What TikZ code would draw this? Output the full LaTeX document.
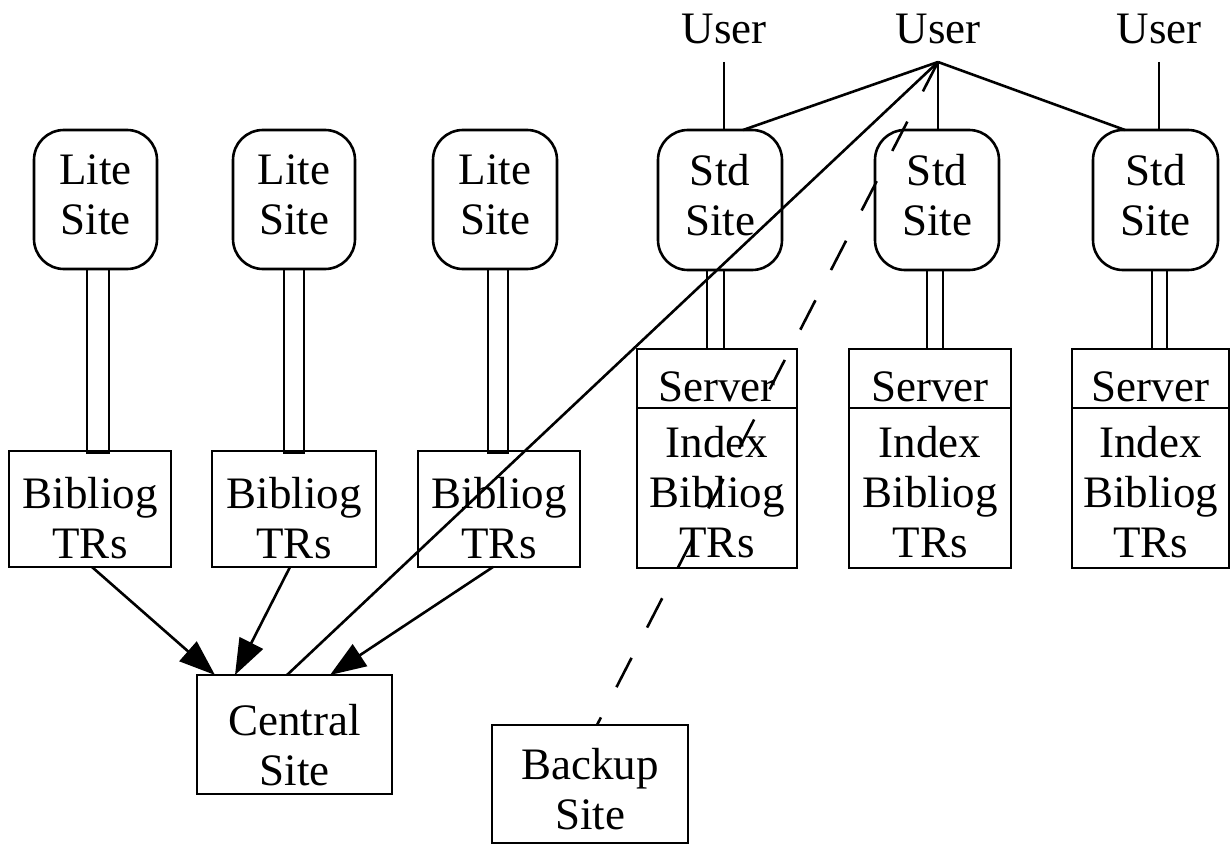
\documentclass[tikz,border=0pt]{standalone}
\usepackage{fontspec}
\setmainfont{Liberation Serif}
\usetikzlibrary{arrows.meta,calc}
\begin{document}
\begin{tikzpicture}[x=1pt,y=-1pt,
  every node/.style={font=\fontsize{45}{50}\selectfont, inner sep=0pt, outer sep=0pt},
  ln/.style={line width=2.6pt},
  sitebox/.style={draw, line width=2.6pt, rounded corners=30pt, minimum height=139pt},
  rbox/.style={draw, line width=2.6pt},
  txt/.style={align=center},
  usr/.style={anchor=base, outer ysep=18pt, text depth=0pt},
  arr/.style={line width=2.6pt, -{Triangle[length=36pt,width=26pt]}},
  dsh/.style={line width=2.6pt, dash pattern=on 33pt off 34pt},
]
\useasboundingbox (0,0) rectangle (1231,845);

% users
\node[usr] (user1) at (724,44) {User};
\node[usr] (user2) at (938,44) {User};
\node[usr] (user3) at (1159,44) {User};

% lite sites
\node[sitebox, minimum width=123pt] (lite1) at (95.5,199.5) {};
\node[sitebox, minimum width=122pt] (lite2) at (294,199.5) {};
\node[sitebox, minimum width=124pt] (lite3) at (495,199.5) {};
\node[txt] (lite1t) at ($(lite1)+(0,-5)$) {Lite\\Site};
\node[txt] (lite2t) at ($(lite2)+(0,-5)$) {Lite\\Site};
\node[txt] (lite3t) at ($(lite3)+(0,-5)$) {Lite\\Site};

% std sites
\node[sitebox, minimum width=124pt, minimum height=140pt] (std1) at (720,200) {};
\node[sitebox, minimum width=124pt, minimum height=140pt] (std2) at (937,200) {};
\node[sitebox, minimum width=125pt, minimum height=140pt] (std3) at (1155.5,200) {};
\node[txt] (std1t) at ($(std1)+(0,-5)$) {Std\\Site};
\node[txt] (std2t) at ($(std2)+(0,-5)$) {Std\\Site};
\node[txt] (std3t) at ($(std3)+(0,-5)$) {Std\\Site};

% bibliog boxes
\node[rbox, minimum width=162pt, minimum height=116pt] (bib1) at (90,509) {};
\node[rbox, minimum width=164pt, minimum height=116pt] (bib2) at (294,509) {};
\node[rbox, minimum width=162pt, minimum height=116pt] (bib3) at (499,509) {};
\node[txt] (bib1t) at ($(bib1)+(0,9)$) {Bibliog\\TRs};
\node[txt] (bib2t) at ($(bib2)+(0,9)$) {Bibliog\\TRs};
\node[txt] (bib3t) at ($(bib3)+(0,9)$) {Bibliog\\TRs};

% server boxes
\node[rbox, minimum width=160pt, minimum height=59pt] (srv1) at (717,378.5) {};
\node[rbox, minimum width=162pt, minimum height=59pt] (srv2) at (930,378.5) {};
\node[rbox, minimum width=157pt, minimum height=59pt] (srv3) at (1150.5,378.5) {};
\node[rbox, minimum width=160pt, minimum height=160pt] (idx1) at (717,488) {};
\node[rbox, minimum width=162pt, minimum height=160pt] (idx2) at (930,488) {};
\node[rbox, minimum width=157pt, minimum height=160pt] (idx3) at (1150.5,488) {};
\node[txt] (srv1t) at ($(srv1)+(0,8)$) {Server};
\node[txt] (srv2t) at ($(srv2)+(0,8)$) {Server};
\node[txt] (srv3t) at ($(srv3)+(0,8)$) {Server};
\node[txt] (idx1t) at ($(idx1)+(0,4)$) {Index\\Bibliog\\TRs};
\node[txt] (idx2t) at ($(idx2)+(0,4)$) {Index\\Bibliog\\TRs};
\node[txt] (idx3t) at ($(idx3)+(0,4)$) {Index\\Bibliog\\TRs};

% central and backup
\node[rbox, minimum width=195pt, minimum height=119pt] (central) at (294.5,734.5) {};
\node[txt] (centralt) at ($(central)+(0,11)$) {Central\\Site};
\node[rbox, minimum width=196pt, minimum height=118pt] (backup) at (590,784) {};
\node[txt] (backupt) at ($(backup)+(0,5)$) {Backup\\Site};

% pipes
\draw[ln] ($(lite1.south)+(-8.5,0)$) rectangle ($(bib1.north)+(19,2)$);
\draw[ln] ($(lite2.south)+(-10,0)$) rectangle ($(bib2.north)+(10,2)$);
\draw[ln] ($(lite3.south)+(-7,0)$) rectangle ($(bib3.north)+(9,2)$);
\draw[ln] ($(std1.south)+(-13,0)$) rectangle ($(srv1.north)+(7,0)$);
\draw[ln] ($(std2.south)+(-10,0)$) rectangle ($(srv2.north)+(13,0)$);
\draw[ln] ($(std3.south)+(-3.5,0)$) rectangle ($(srv3.north)+(16.5,0)$);

% user links
\draw[ln] (user1.south) -- (user1.south |- std1.north);
\draw[ln] (user2.south) -- (user2.south |- std2.north);
\draw[ln] (user3.south) -- (user3.south |- std3.north);
\draw[ln] (user2.south) -- ($(std1.north)+(23,0)$);
\draw[ln] (user2.south) -- ($(std3.north)+(-30.5,0)$);
\draw[ln] (user2.south) -- ($(central.north west)+(90,0)$);
\draw[dsh] (user2.south) -- ($(backup.north)+(7,0)$);

% arrows to central
\draw[arr] ($(bib1.south)+(2,0)$) -- ($(central.north west)+(18,0)$);
\draw[arr] ($(bib2.south)+(-4,0)$) -- ($(central.north west)+(38,0)$);
\draw[arr] ($(bib3.south)+(-6,0)$) -- ($(central.north west)+(133,0)$);
\end{tikzpicture}
\end{document}
